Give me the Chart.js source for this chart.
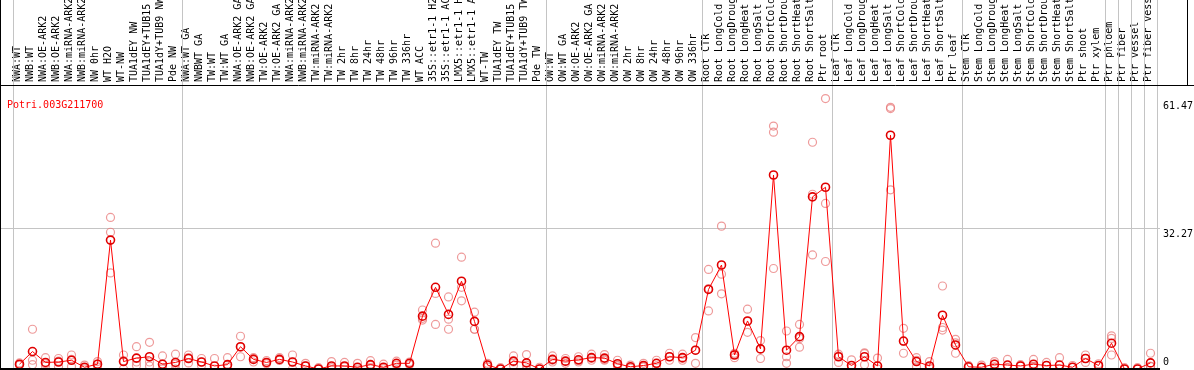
<!DOCTYPE html>
<html>
<head>
<meta charset="utf-8">
<script src="https://cdn.jsdelivr.net/npm/chart.js@4.4.0/dist/chart.umd.min.js"></script>
<style>
  html, body { margin: 0; padding: 0; background: #fff; }
  #wrap { width: 1194px; height: 370px; }
</style>
</head>
<body>
<div id="wrap"><canvas id="exprChart" width="1194" height="370"></canvas></div>
<script>
const geneName = 'Potri.003G211700';

const samples = [
    'NWA:WT', 'NWB:WT', 'NWA:OE-ARK2', 'NWB:OE-ARK2', 'NWA:miRNA-ARK2', 'NWB:miRNA-ARK2',
    'NW 0hr', 'WT H2O', 'WT-NW', 'TUA1dEY NW', 'TUA1dEY+TUB15', 'TUA1dY+TUB9 NW', 'Pde NW',
    'NWA:WT GA', 'NWBWT GA', 'TW:WT', 'TW:WT GA', 'NWA:OE-ARK2 GA', 'NWB:OE-ARK2 GA',
    'TW:OE-ARK2', 'TW:OE-ARK2 GA', 'NWA:miRNA-ARK2', 'NWB:miRNA-ARK2', 'TW:miRNA-ARK2',
    'TW:miRNA-ARK2', 'TW 2hr', 'TW 8hr', 'TW 24hr', 'TW 48hr', 'TW 96hr', 'TW 336hr',
    'WT ACC', '35S::etr1-1 H2', '35S::etr1-1 AC', 'LMX5::etr1-1 H', 'LMX5::etr1-1 A',
    'WT-TW', 'TUA1dEY TW', 'TUA1dEY+TUB15', 'TUA1dY+TUB9 TW', 'Pde TW',
    'OW:WT', 'OW:WT GA', 'OW:OE-ARK2', 'OW:OE-ARK2 GA', 'OW:miRNA-ARK2', 'OW:miRNA-ARK2',
    'OW 2hr', 'OW 8hr', 'OW 24hr', 'OW 48hr', 'OW 96hr', 'OW 336hr',
    'Root CTR', 'Root LongCold', 'Root LongDroug', 'Root LongHeat', 'Root LongSalt',
    'Root ShortCold', 'Root ShortDrou', 'Root ShortHeat', 'Root ShortSalt', 'Ptr root',
    'Leaf CTR', 'Leaf LongCold', 'Leaf LongDroug', 'Leaf LongHeat', 'Leaf LongSalt',
    'Leaf ShortCold', 'Leaf ShortDrou', 'Leaf ShortHeat', 'Leaf ShortSalt', 'Ptr leaf',
    'Stem CTR', 'Stem LongCold', 'Stem LongDroug', 'Stem LongHeat', 'Stem LongSalt',
    'Stem ShortCold', 'Stem ShortDrou', 'Stem ShortHeat', 'Stem ShortSalt', 'Ptr shoot',
    'Ptr xylem', 'Ptr phloem', 'Ptr fiber', 'Ptr vessel', 'Ptr fiber vess'
];

// mean expression per sample
const meanExpr = [
    1.1, 4.0, 1.5, 1.6, 2.0, 0.4, 1.1, 29.5, 1.7, 2.5, 2.8, 1.1, 1.5,
    2.4, 1.6, 0.7, 1.0, 5.1, 2.2, 1.5, 2.2, 1.6, 0.7, 0.0, 0.7, 0.7, 0.4, 1.0, 0.4, 1.3, 1.3,
    12.1, 18.7, 12.5, 20.1, 10.9, 0.9, 0.0, 1.8, 1.4, 0.0,
    2.2, 1.8, 2.1, 2.6, 2.5, 1.2, 0.5, 0.8, 1.3, 2.8, 2.6, 4.3,
    18.2, 23.8, 3.2, 11.0, 4.6, 44.4, 4.3, 7.4, 39.4, 41.6,
    2.8, 0.8, 2.8, 0.7, 53.5, 6.4, 1.7, 0.7, 12.3, 5.5,
    0.5, 0.4, 1.1, 0.9, 0.7, 1.1, 0.8, 0.9, 0.4, 2.4,
    0.8, 5.9, 0.0, 0.0, 1.4
];

// individual replicates
const rep1 = [
    1.4, 9.1, 2.6, 2.4, 3.2, 0.9, 1.7, 34.7, 3.2, 5.1, 6.1, 3.0, 3.4,
    3.2, 2.4, 2.4, 2.6, 7.5, 2.6, 1.9, 2.6, 3.2, 1.3, 0.3, 1.7, 1.5, 1.3, 1.9, 1.1, 1.8, 1.6,
    13.5, 28.8, 16.5, 25.6, 13.0, 1.3, 0.3, 3.0, 3.3, 0.4,
    3.0, 2.4, 2.8, 3.4, 3.3, 2.0, 0.9, 1.3, 2.0, 3.6, 3.4, 7.2,
    22.8, 32.7, 3.6, 13.7, 6.5, 55.6, 8.7, 10.2, 51.9, 61.9,
    3.4, 2.1, 3.7, 2.5, 59.9, 9.3, 2.6, 1.7, 19.0, 6.8,
    0.8, 0.9, 1.7, 2.2, 1.0, 2.2, 1.5, 2.6, 0.8, 3.2,
    1.2, 7.6, 0.3, 0.3, 3.6
];
const rep2 = [
    0.9, 2.0, 1.2, 1.8, 2.2, 0.3, 1.1, 31.3, 1.9, 1.6, 1.6, 0.3, 1.1,
    2.6, 1.6, 0.0, 0.4, 2.8, 2.4, 1.2, 2.0, 1.6, 0.7, 0.0, 0.3, 0.5, 0.0, 0.8, 0.1, 1.2, 1.3,
    11.2, 17.3, 11.4, 18.7, 9.1, 0.9, 0.0, 1.6, 0.9, 0.0,
    2.0, 1.7, 1.9, 2.4, 2.2, 0.9, 0.4, 0.6, 1.2, 2.8, 2.4, 4.3,
    18.4, 21.7, 3.4, 8.4, 4.6, 54.2, 2.8, 5.0, 40.0, 37.9,
    3.0, 0.3, 3.5, 0.0, 59.6, 3.6, 2.0, 0.3, 9.5, 3.6,
    0.4, 0.3, 1.1, 0.3, 0.7, 0.6, 0.8, 0.1, 0.4, 2.4,
    0.7, 7.0, 0.0, 0.0, 0.6
];
const rep3 = [
    1.0, 1.0, 0.7, 0.6, 0.6, 0.0, 0.5, 22.0, 0.0, 0.8, 0.7, 0.0, 0.0,
    1.4, 0.8, null, null, 5.0, 1.6, 1.4, 2.0, 0.0, null, null, null, null, null, 0.3, null, 0.9, 1.0,
    11.6, 10.2, 9.1, 15.6, 9.1, 0.5, null, 0.8, 0.0, null,
    1.6, 1.3, 1.6, 2.0, 2.0, 0.7, 0.2, 0.5, 0.7, 2.0, 2.0, 1.3,
    13.3, 17.2, 2.6, 10.9, 2.4, 23.0, 1.3, 7.0, 26.1, 24.6,
    1.5, null, 1.0, null, 41.0, 6.3, 0.5, null, 8.9, 6.0,
    null, null, 0.5, null, null, 0.5, null, null, null, 1.5,
    null, 3.2, null, null, 0.6
];

const yTicks = [0, 32.27, 61.47];
// first sample index of each block; a grey separator is drawn before it
const groupStarts = [0, 13, 41, 53, 63, 73, 84, 85, 86, 87, 88];

function toPoints(arr) {
    return arr.map((v, i) => ({ x: i, y: v }));
}

const labelFont = { family: 'DejaVu Sans Mono', size: 10 };

const frame = {
    id: 'frame',
    beforeDatasetsDraw(chart) {
        const { ctx, chartArea, scales } = chart;
        ctx.save();
        // block separators
        ctx.strokeStyle = '#c4c4c4';
        ctx.lineWidth = 1;
        groupStarts.forEach(i => {
            const x = Math.round(scales.x.getPixelForValue(i - 0.5)) + 0.5;
            ctx.beginPath();
            ctx.moveTo(x, 0);
            ctx.lineTo(x, chartArea.bottom);
            ctx.stroke();
        });
        ctx.restore();
    },
    afterDraw(chart) {
        const { ctx, chartArea, scales, width } = chart;
        ctx.save();
        ctx.strokeStyle = '#000';
        ctx.lineWidth = 1;
        ctx.beginPath();
        // header bottom and left edge
        ctx.moveTo(0, chartArea.top + 0.5);
        ctx.lineTo(width, chartArea.top + 0.5);
        ctx.moveTo(0.5, 0);
        ctx.lineTo(0.5, chartArea.bottom);
        ctx.moveTo(width - 6.5, 0);
        ctx.lineTo(width - 6.5, chartArea.top);
        ctx.stroke();
        ctx.lineWidth = 2;
        ctx.beginPath();
        ctx.moveTo(0, chartArea.bottom);
        ctx.lineTo(chartArea.right, chartArea.bottom);
        ctx.stroke();

        // gene name
        ctx.fillStyle = '#ff0000';
        ctx.font = '10px "DejaVu Sans Mono"';
        ctx.textBaseline = 'alphabetic';
        ctx.fillText(geneName, chartArea.left + 7, chartArea.top + 23);

        // y values, right of plot
        ctx.fillStyle = '#000';
        yTicks.forEach(v => {
            const y = scales.y.getPixelForValue(v);
            ctx.fillText(String(v), chartArea.right + 3, v === 0 ? y - 4 : y + 9);
        });
        ctx.restore();
    }
};

new Chart(document.getElementById('exprChart'), {
    type: 'line',
    data: {
        datasets: [
            {
                label: 'mean',
                data: toPoints(meanExpr),
                borderColor: '#ff0000',
                borderWidth: 1,
                pointRadius: 4,
                pointBorderWidth: 1.6,
                pointBorderColor: '#e00000',
                pointBackgroundColor: 'rgba(0,0,0,0)',
                tension: 0
            },
            {
                label: 'rep1',
                data: toPoints(rep1),
                showLine: false,
                pointRadius: 4,
                pointBorderWidth: 1.2,
                pointBorderColor: 'rgba(232,120,120,0.75)',
                pointBackgroundColor: 'rgba(0,0,0,0)'
            },
            {
                label: 'rep2',
                data: toPoints(rep2),
                showLine: false,
                pointRadius: 4,
                pointBorderWidth: 1.2,
                pointBorderColor: 'rgba(232,120,120,0.75)',
                pointBackgroundColor: 'rgba(0,0,0,0)'
            },
            {
                label: 'rep3',
                data: toPoints(rep3),
                showLine: false,
                pointRadius: 4,
                pointBorderWidth: 1.2,
                pointBorderColor: 'rgba(232,120,120,0.75)',
                pointBackgroundColor: 'rgba(0,0,0,0)'
            }
        ]
    },
    options: {
        responsive: false,
        devicePixelRatio: 1,
        animation: false,
        layout: { autoPadding: false, padding: { bottom: 1 } },
        plugins: {
            legend: { display: false },
            tooltip: { enabled: false }
        },
        scales: {
            x: {
                type: 'linear',
                position: 'top',
                min: -1.5,
                max: samples.length - 0.27,
                grid: { display: false, drawTicks: false },
                border: { display: false },
                afterBuildTicks: scale => {
                    scale.ticks = samples.map((s, i) => ({ value: i }));
                },
                afterFit: scale => {
                    scale.height = 85;
                    scale.paddingLeft = 0;
                    scale.paddingRight = 0;
                },
                ticks: {
                    autoSkip: false,
                    minRotation: 90,
                    maxRotation: 90,
                    padding: 3,
                    labelOffset: 10,
                    color: '#000',
                    font: labelFont,
                    callback: v => samples[v]
                }
            },
            y: {
                position: 'right',
                min: 0,
                max: 65,
                afterBuildTicks: scale => {
                    scale.ticks = yTicks.map(v => ({ value: v }));
                },
                afterFit: scale => {
                    scale.width = 34;
                },
                grid: {
                    color: c => (c.tick && c.tick.value === yTicks[1]) ? '#c4c4c4' : 'rgba(0,0,0,0)',
                    drawTicks: false
                },
                border: { display: false },
                ticks: { display: false }
            }
        }
    },
    plugins: [frame]
});
</script>
</body>
</html>
